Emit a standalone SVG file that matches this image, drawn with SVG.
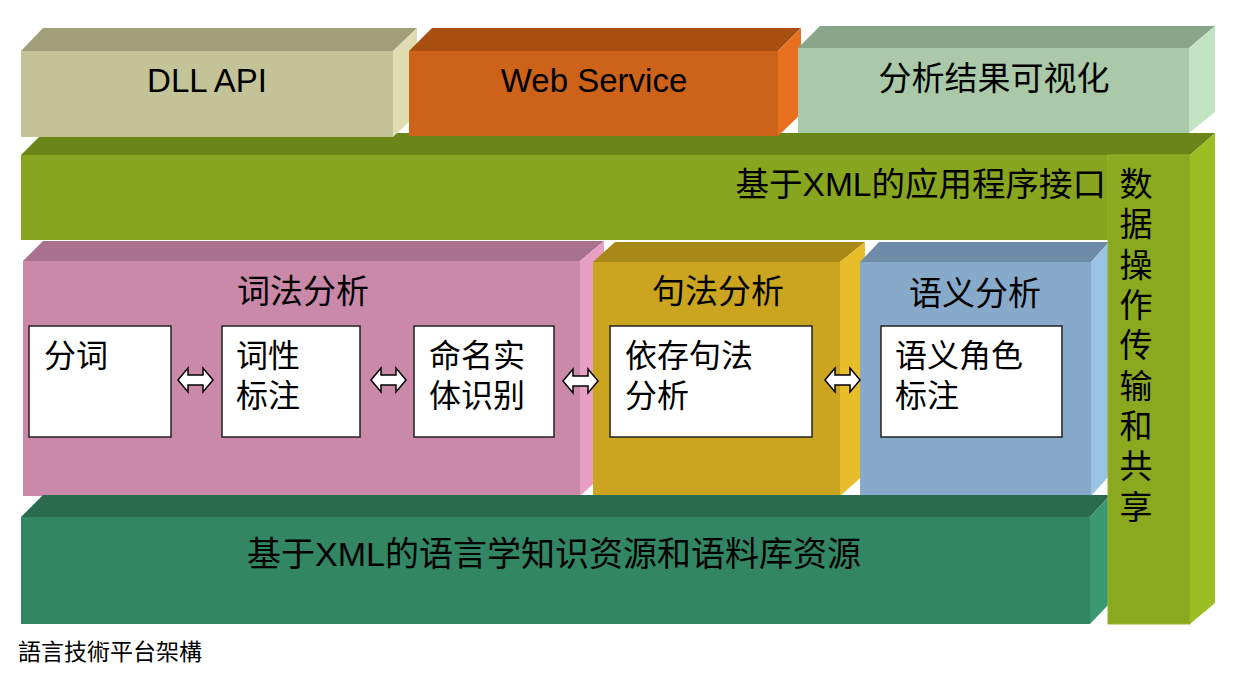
<svg xmlns="http://www.w3.org/2000/svg" xmlns:xlink="http://www.w3.org/1999/xlink" width="1248" height="684" viewBox="0 0 1248 684">
<style>
.t{font-family:"Liberation Sans","Noto Sans CJK SC",sans-serif;font-size:33px;fill:#000;}
.c{text-anchor:middle;}
.in{font-family:"Noto Sans CJK SC",sans-serif;font-size:32px;fill:#000;}
.cap{font-family:"Noto Sans CJK TC",sans-serif;font-size:23px;fill:#000;}
.box{fill:#fff;stroke:#222;stroke-width:1.5;}
.arr{fill:#fff;stroke:#000;stroke-width:1.5;stroke-linejoin:miter;}
</style>
<defs>
<path id="dbl" d="M-17.5,0 L-7.5,-12 L-7.5,-5 L7.5,-5 L7.5,-12 L17.5,0 L7.5,12 L7.5,5 L-7.5,5 L-7.5,12 Z"/>
</defs>
<rect width="1248" height="684" fill="#fff"/>

<g id="api-layer">
<polygon points="21,155 43,133 1215,133 1190,155" fill="#6b8618"/>
<rect x="21" y="155" width="1169" height="85" fill="#87a51e"/>
<text class="t" x="1106" y="196" text-anchor="end" style="font-size:33.5px">基于XML的应用程序接口</text>
</g>

<g id="dll-api">
<polygon points="21,51 43,28 417,28 393,51" fill="#a09f7a"/>
<polygon points="393,51 417,28 417,114 393,137" fill="#dedcb0"/>
<rect x="21" y="51" width="372" height="86" fill="#c4c398"/>
<text class="t c" x="207" y="92">DLL API</text>
</g>

<g id="web-service">
<polygon points="409,51 432,28 801,28 778,51" fill="#a84f12"/>
<polygon points="778,51 801,28 801,114 778,136" fill="#e8701f"/>
<rect x="409" y="51" width="369" height="85" fill="#cd6219"/>
<text class="t c" x="594" y="92">Web Service</text>
</g>

<g id="visualization">
<polygon points="798,48 820,26 1215,26 1189,48" fill="#8aa68a"/>
<polygon points="1189,48 1215,26 1215,112 1189,133" fill="#c2e4c2"/>
<rect x="798" y="48" width="391" height="85" fill="#a9c9a9"/>
<text class="t c" x="994" y="90">分析结果可视化</text>
</g>

<g id="lexical">
<polygon points="23,261 43,241 604,241 580,261" fill="#a8728c"/>
<polygon points="580,261 604,241 604,474 580,496" fill="#e89fc4"/>
<rect x="23" y="261" width="557" height="235" fill="#cb89aa"/>
<text class="t c" x="303" y="303">词法分析</text>
</g>

<g id="syntactic">
<polygon points="593,262 615,242 865,242 840,262" fill="#a88817"/>
<polygon points="840,262 865,242 865,474 840,496" fill="#e8bd2a"/>
<rect x="593" y="262" width="247" height="234" fill="#cba420"/>
<text class="t c" x="718" y="303">句法分析</text>
</g>

<g id="semantic">
<polygon points="860,262 879,242 1109,242 1091,262" fill="#6e8ca8"/>
<polygon points="1091,262 1109,242 1109,476 1091,496" fill="#9bc3e6"/>
<rect x="860" y="262" width="231" height="234" fill="#87aacb"/>
<text class="t c" x="975" y="305">语义分析</text>
</g>

<g id="seg">
<rect class="box" x="29" y="326" width="142" height="111"/>
<text class="in" x="44" y="367">分词</text>
</g>
<g id="pos">
<rect class="box" x="222" y="326" width="138" height="111"/>
<text class="in" x="236" y="367">词性<tspan x="236" dy="40">标注</tspan></text>
</g>
<g id="ner">
<rect class="box" x="414" y="326" width="140" height="111"/>
<text class="in" x="429" y="367">命名实<tspan x="429" dy="40">体识别</tspan></text>
</g>
<g id="dep">
<rect class="box" x="610" y="326" width="202" height="111"/>
<text class="in" x="625" y="367">依存句法<tspan x="625" dy="40">分析</tspan></text>
</g>
<g id="srl">
<rect class="box" x="881" y="326" width="181" height="111"/>
<text class="in" x="895" y="367">语义角色<tspan x="895" dy="40">标注</tspan></text>
</g>

<g id="resources">
<polygon points="21,517 43,495 1110,495 1090,517" fill="#2a6b4f"/>
<polygon points="1090,517 1110,495 1110,603 1090,624" fill="#3a9873"/>
<rect x="21" y="517" width="1069" height="107" fill="#328663"/>
<text class="t c" x="554" y="566" style="font-size:34px">基于XML的语言学知识资源和语料库资源</text>
</g>

<g id="data-sharing">
<rect x="1108" y="155" width="82" height="469" fill="#8aa91f" stroke="#98b52a" stroke-width="1"/>
<polygon points="1190,155 1215,133 1215,603 1190,624" fill="#9bbe22"/>
<text class="t c" x="1136" y="196">数</text>
<text class="t c" x="1136" y="236">据</text>
<text class="t c" x="1136" y="277">操</text>
<text class="t c" x="1136" y="317">作</text>
<text class="t c" x="1136" y="357">传</text>
<text class="t c" x="1136" y="398">输</text>
<text class="t c" x="1136" y="438">和</text>
<text class="t c" x="1136" y="478">共</text>
<text class="t c" x="1136" y="519">享</text>
</g>

<g id="connectors">
<use class="arr" xlink:href="#dbl" href="#dbl" x="195.5" y="380"/>
<use class="arr" xlink:href="#dbl" href="#dbl" x="388.5" y="380"/>
<use class="arr" xlink:href="#dbl" href="#dbl" x="580.5" y="381"/>
<use class="arr" xlink:href="#dbl" href="#dbl" x="842.5" y="380"/>
</g>

<text class="cap" x="18" y="660">語言技術平台架構</text>
</svg>
